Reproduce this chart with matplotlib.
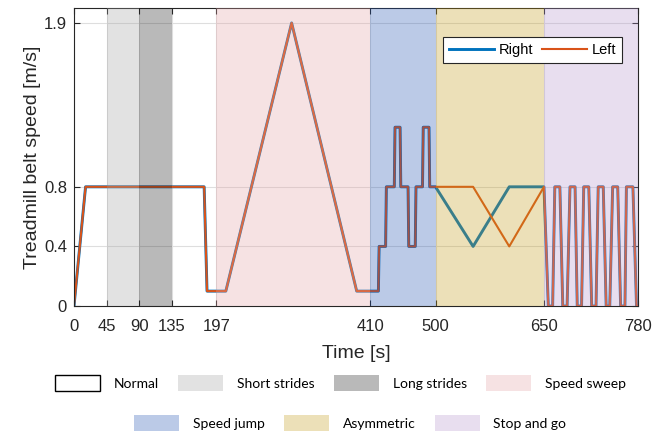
import matplotlib
matplotlib.use("Agg")
import matplotlib.pyplot as plt
import matplotlib.patches as mpatches

# belt speed profile [s], [m/s]
t_right = [0, 16, 180, 184, 210, 301, 391, 421, 422, 431, 432, 443, 444, 451, 452,
           462, 463, 472, 473, 482, 483, 491, 492, 500, 552, 602, 650, 656, 662, 665,
           672, 676, 682, 686, 693, 696, 702, 705, 712, 716, 722, 725, 732, 736, 741,
           745, 752, 756, 762, 764, 773, 778, 780]
v_right = [0, 0.8, 0.8, 0.1, 0.1, 1.9, 0.1, 0.1, 0.4, 0.4, 0.8, 0.8, 1.2, 1.2, 0.8,
           0.8, 0.4, 0.4, 0.8, 0.8, 1.2, 1.2, 0.8, 0.8, 0.4, 0.8, 0.8, 0, 0, 0.8,
           0.8, 0, 0, 0.8, 0.8, 0, 0, 0.8, 0.8, 0, 0, 0.8, 0.8, 0, 0,
           0.8, 0.8, 0, 0, 0.8, 0.8, 0, 0]

t_left = t_right
v_left = [0, 0.8, 0.8, 0.1, 0.1, 1.9, 0.1, 0.1, 0.4, 0.4, 0.8, 0.8, 1.2, 1.2, 0.8,
          0.8, 0.4, 0.4, 0.8, 0.8, 1.2, 1.2, 0.8, 0.8, 0.8, 0.4, 0.8, 0, 0, 0.8,
          0.8, 0, 0, 0.8, 0.8, 0, 0, 0.8, 0.8, 0, 0, 0.8, 0.8, 0, 0,
          0.8, 0.8, 0, 0, 0.8, 0.8, 0, 0]

# protocol phases
phase_names = ["Normal", "Short strides", "Long strides", "Speed sweep",
               "Speed jump", "Asymmetric", "Stop and go"]
phase_bounds = [(0, 45), (45, 90), (90, 135), (135, 197), (197, 410),
                (410, 500), (500, 650), (650, 780)]
phase_of_span = [0, 1, 2, 0, 3, 4, 5, 6]
phase_colors = [None, "#a2a2a2", "#191919", "#e4a2a5",
                "#2052b2", "#c39b16", "#b394cd"]

x_ticks = [0, 45, 90, 135, 197, 410, 500, 650, 780]
y_ticks = [0, 0.4, 0.8, 1.9]

plt.rcParams["font.family"] = ["Liberation Sans", "DejaVu Sans"]

fig = plt.figure(figsize=(6.66, 4.34), dpi=100)
ax = fig.add_axes([0.1111, 0.2949, 0.8468, 0.6866])

ax.plot(t_right, v_right, color="#0072BD", lw=2.1, label="Right", zorder=2)
ax.plot(t_left, v_left, color="#D95319", lw=1.5, label="Left", zorder=2.1)

# shaded phases go over the traces
for (a, b), p in zip(phase_bounds, phase_of_span):
    if phase_colors[p] is None:
        continue
    ax.axvspan(a, b, facecolor=phase_colors[p], alpha=0.3, edgecolor="none", zorder=3)

ax.set_xlim(0, 780)
ax.set_ylim(0, 2.0)
ax.set_xticks(x_ticks)
ax.set_yticks(y_ticks)
ax.set_yticklabels(["0", "0.4", "0.8", "1.9"])
ax.tick_params(direction="in", top=True, right=True, length=4, width=0.8,
               labelsize=12, colors="#262626", pad=5)
ax.tick_params(axis="x", pad=9)
ax.grid(True, color="#dedede", lw=0.8)
ax.set_axisbelow(True)
for s in ax.spines.values():
    s.set_color("#262626")
    s.set_linewidth(0.8)

ax.set_xlabel("Time [s]", fontsize=14, color="#262626", labelpad=8)
ax.set_ylabel("Treadmill belt speed [m/s]", fontsize=14, color="#262626", labelpad=2)

leg = ax.legend(loc="upper right", bbox_to_anchor=(0.984, 0.926), ncol=2,
                fontsize=10.5, handlelength=3.1, handletextpad=0.3,
                columnspacing=0.6, fancybox=False, edgecolor="#262626",
                framealpha=1, borderpad=0.4)
leg.get_frame().set_linewidth(0.8)
leg.set_zorder(5)

# phase legend below the axes
handles = [mpatches.Patch(facecolor="white", edgecolor="black", lw=1.0)]
for c in phase_colors[1:]:
    handles.append(mpatches.Patch(facecolor=c, alpha=0.3, edgecolor="none"))

kw = dict(frameon=False, loc="center", handlelength=3.24, handleheight=1.44,
          handletextpad=1.0, columnspacing=1.37, prop={"family": "Lato", "size": 10})
fig.legend(handles[:4], phase_names[:4], ncol=4, bbox_to_anchor=(0.511, 0.1175), **kw)
fig.legend(handles[4:], phase_names[4:], ncol=3, bbox_to_anchor=(0.526, 0.0253), **kw)

fig.savefig("out.png", dpi=100)
